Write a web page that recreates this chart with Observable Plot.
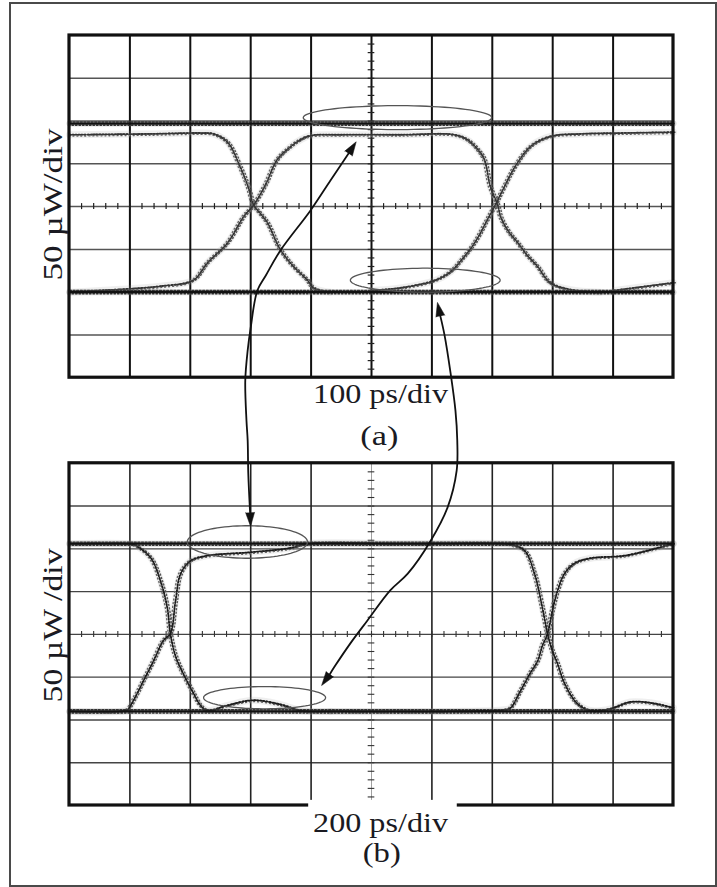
<!DOCTYPE html>
<html><head><meta charset="utf-8">
<script src="https://cdn.jsdelivr.net/npm/d3@7"></script>
<script src="https://cdn.jsdelivr.net/npm/@observablehq/plot@0.6"></script>
<style>
html,body{margin:0;padding:0;background:#fff;}
#wrap{position:relative;width:717px;height:887px;}
#wrap svg{position:absolute;left:0;top:0;}
#border{position:absolute;left:9px;top:2px;width:704px;height:881px;border:2px solid #4a4a4a;pointer-events:none;z-index:2;}
</style></head><body><div id="wrap"><div id="border"></div></div>
<script>
// ---------- data (time in ps, optical power in µW above screen bottom) ----------
const pPerDiv = 50;
const panelA = {tPerDiv: 100, yOffset: 10};
const panelB = {tPerDiv: 200, yOffset: 0};

// panel (a): 100 ps/div
const aHigh = [[0, 297], [1000, 297]];
const aLow  = [[0, 100], [1000, 100]];
const aTrace1 = [[0,284],[134,285],[217,286],[238,285],[262,275],[283,246],[296,223],[305,202],[316,192],[328,181],[349,150],[371,130],[394,114],[404,105],[432,100]];
const aTrace2 = [[0,100],[51,102],[101,104],[151,107],[205,114],[228,134],[262,158],[288,188],[305,202],[324,225],[344,255],[366,270],[382,278],[399,283],[449,284],[548,284],[637,284],[659,278],[677,266],[687,255],[697,223],[709,202],[714,188],[727,171],[742,158],[758,143],[775,130],[796,111],[829,103],[879,100]];
const aTrace3 = [[498,102],[548,105],[606,114],[631,124],[647,136],[671,158],[692,185],[705,202],[719,222],[737,246],[763,270],[796,282],[846,285],[912,286],[1000,287]];
const aTrace4 = [[902,102],[1000,111]];

// panel (b): 200 ps/div
const bHigh = [[0, 306], [2000, 306]];
const bLow  = [[0, 110], [2000, 110]];
const bTrace1 = [[0,306],[192,306],[212,305],[268,290],[301,263],[324,231],[334,201],[351,175],[377,154],[411,131],[434,117],[457,111],[523,117],[609,123],[699,118],[765,111],[864,110]];
const bTrace2 = [[0,110],[169,110],[192,112],[212,123],[245,146],[278,169],[311,193],[334,201],[351,239],[368,271],[401,286],[457,292],[599,296],[732,301],[788,306],[1096,306],[1444,306],[1460,305],[1507,298],[1540,271],[1566,231],[1583,201],[1599,181],[1616,166],[1639,143],[1682,119],[1725,111],[1791,113],[1857,121],[1924,120],[2000,114]];
const bTrace3 = [[864,110],[1262,110],[1440,112],[1460,114],[1493,134],[1526,155],[1550,169],[1566,187],[1583,201],[1599,228],[1616,251],[1639,271],[1672,283],[1725,289],[1838,292],[1947,301],[2000,306]];

// highlighted regions (centre t, centre P, half-width ps, half-height µW)
const aEllipses = [{t:543, p:304, rt:156, rp:14}, {t:589, p:114, rt:124, rp:14}];
const bEllipses = [{t:589, p:308, rt:199, rp:19}, {t:646, p:126, rt:202, rp:13}];

// connecting arrows, in screen divisions of the whole figure
const arrow1 = [[4.62,15.24],[4.32,14.61],[3.99,13.91],[3.49,12.97],[3.25,12.39],[3.11,12.04],[3.00,11.17],[2.95,10.64],[2.91,9.93],[2.93,9.00],[2.95,8.53],[2.96,7.76],[2.99,6.85]];
const arrow2 = [[6.14,11.44],[6.21,10.99],[6.31,10.10],[6.39,9.23],[6.42,8.53],[6.41,7.83],[6.26,6.97],[5.98,6.19],[5.60,5.42],[5.31,5.03],[4.93,4.32],[4.65,3.79],[4.40,3.27],[4.31,3.07]];
const arrowHeads = [{x:4.62,y:15.24,rot:33},{x:2.99,y:6.85,rot:178},{x:6.14,y:11.44,rot:-12},{x:4.31,y:3.07,rot:216}];

const gridX = [1,2,3,4,5,6,7,8,9];
const gridY = [1,2,3,4,5,6,7];

// ---------- build ----------
const rows = (trace, p, id) => trace.map(([t, P]) => ({x: t / p.tPerDiv, y: P / pPerDiv + p.yOffset, id}));
const edgeRowsA = [...rows(aTrace1, panelA, "a1"), ...rows(aTrace2, panelA, "a2"), ...rows(aTrace3, panelA, "a3"), ...rows(aTrace4, panelA, "a4")];
const edgeRowsB = [...rows(bTrace1, panelB, "b1"), ...rows(bTrace2, panelB, "b2"), ...rows(bTrace3, panelB, "b3")];
const steadyRows = [
  ...rows(aHigh, panelA, "ah"), ...rows(aLow, panelA, "al"),
  ...rows(bHigh, panelB, "bh"), ...rows(bLow, panelB, "bl")
];
const ellipseRows = [];
const addEll = (list, p, pre) => list.forEach((e, i) => {
  for (let a = 0; a <= 360; a += 4) {
    const r = a * Math.PI / 180;
    ellipseRows.push({x: (e.t + e.rt * Math.cos(r)) / p.tPerDiv, y: (e.p + e.rp * Math.sin(r)) / pPerDiv + p.yOffset, id: pre + i});
  }
});
addEll(aEllipses, panelA, "ea"); addEll(bEllipses, panelB, "eb");
const arrowRows = [...arrow1.map(([x,y]) => ({x,y,id:1})), ...arrow2.map(([x,y]) => ({x,y,id:2}))];

const minorX = d3.range(1, 50).map(i => i / 5);
const minorY = d3.range(1, 40).map(i => i / 5);
const offA = panelA.yOffset, offB = panelB.yOffset;

// scatter-like rendering of a sampled trace: faint spread + offset dotted strands
const scatter = (data, dark) => [
  Plot.line(data, {x: "x", y: "y", z: "id", stroke: "#999", strokeWidth: 7, strokeOpacity: 0.16, curve: "catmull-rom"}),
  Plot.line(data, {x: "x", y: "y", z: "id", dx: -2, stroke: "#666", strokeWidth: 1.4, strokeDasharray: "1 2.8", strokeDashoffset: 2, curve: "catmull-rom"}),
  Plot.line(data, {x: "x", y: "y", z: "id", dx: 2, stroke: "#555", strokeWidth: 1.4, strokeDasharray: "1.1 2.4", strokeDashoffset: 1, curve: "catmull-rom"}),
  Plot.line(data, {x: "x", y: "y", z: "id", dy: 1.4, stroke: "#666", strokeWidth: 1.3, strokeDasharray: "1 3", strokeDashoffset: 0.5, curve: "catmull-rom"}),
  Plot.line(data, {x: "x", y: "y", z: "id", stroke: dark, strokeWidth: 1.8, strokeDasharray: "1.3 1.7", curve: "catmull-rom"})
];

const font = "'Liberation Serif', 'Times New Roman', Times, serif";
const txt = {fontSize: 28, fontFamily: font, fill: "#1a1a22"};
const plot = Plot.plot({
  width: 717, height: 887,
  marginLeft: 69, marginRight: 44, marginTop: 35, marginBottom: 82,
  x: {domain: [0, 10], axis: null},
  y: {domain: [0, 18], axis: null},
  style: {background: "transparent", fontFamily: font},
  marks: [
    // panel (a) grid
    Plot.ruleY(gridY, {y: d => d + offA, x1: 0, x2: 10, stroke: "#555", strokeWidth: 1.5}),
    Plot.ruleX(gridX, {x: d => d, y1: offA, y2: offA + 8, stroke: "#111", strokeWidth: 2}),
    Plot.ruleX(minorX, {x: d => d, y1: offA + 4 - 0.07, y2: offA + 4 + 0.07, stroke: "#222", strokeWidth: 1.2}),
    Plot.ruleY(minorY, {y: d => d + offA, x1: 5 - 0.055, x2: 5 + 0.055, stroke: "#222", strokeWidth: 1.2}),
    // panel (b) grid
    Plot.ruleY(gridY, {y: d => d + offB, x1: 0, x2: 10, stroke: "#444", strokeWidth: 1.4}),
    Plot.ruleX(gridX.filter(d => d !== 5), {x: d => d, y1: offB, y2: offB + 8, stroke: "#222", strokeWidth: 1.6}),
    Plot.ruleX([5], {x: d => d, y1: offB, y2: offB + 8, stroke: "#888", strokeWidth: 0.8}),
    Plot.ruleX(minorX, {x: d => d, y1: offB + 4 - 0.07, y2: offB + 4 + 0.07, stroke: "#333", strokeWidth: 1.1}),
    Plot.ruleY(minorY, {y: d => d + offB, x1: 5 - 0.055, x2: 5 + 0.055, stroke: "#333", strokeWidth: 1.1}),
    // edge traces
    ...scatter(edgeRowsA, "#333"),
    ...scatter(edgeRowsB, "#1a1a1a"),
    // steady one / zero levels
    Plot.line(steadyRows, {x: "x", y: "y", z: "id", stroke: "#888", strokeWidth: 6, strokeOpacity: 0.3}),
    Plot.line(steadyRows, {x: "x", y: "y", z: "id", dy: -1.6, stroke: "#333", strokeWidth: 1.4, strokeDasharray: "2 1.6"}),
    Plot.line(steadyRows, {x: "x", y: "y", z: "id", dy: 1.6, stroke: "#333", strokeWidth: 1.4, strokeDasharray: "1.5 2", strokeDashoffset: 1}),
    Plot.line(steadyRows, {x: "x", y: "y", z: "id", stroke: "#111", strokeWidth: 2.3}),
    // highlight ellipses
    Plot.line(ellipseRows, {x: "x", y: "y", z: "id", stroke: "#555", strokeWidth: 1.3, curve: "linear"}),
    // arrows
    Plot.line(arrowRows, {x: "x", y: "y", z: "id", stroke: "#111", strokeWidth: 1.8, curve: "catmull-rom"}),
    Plot.vector(arrowHeads, {x: "x", y: "y", rotate: "rot", length: 14, r: 4.5, shape: "spike", anchor: "start", fill: "#111", stroke: "#111", strokeWidth: 0.5}),
    // frames
    Plot.rect([{x1: 0, x2: 10, y1: offA, y2: offA + 8}, {x1: 0, x2: 10, y1: offB, y2: offB + 8}], {x1: "x1", x2: "x2", y1: "y1", y2: "y2", fill: "none", stroke: "#111", strokeWidth: 3.2}),
    // label box interrupting bottom frame of (b)
    Plot.rect([{x1: 3.96, x2: 6.42, y1: -0.3, y2: 0.12}], {x1: "x1", x2: "x2", y1: "y1", y2: "y2", fill: "white"}),
    // labels
    Plot.text(["100 ps/div"], {x: 5.15, y: 9.62, text: d => d, ...txt}),
    Plot.text(["(a)"], {x: 5.13, y: 8.63, text: d => d, ...txt}),
    Plot.text(["200 ps/div"], {x: 5.15, y: -0.42, text: d => d, ...txt}),
    Plot.text(["(b)"], {x: 5.17, y: -1.12, text: d => d, ...txt}),
    Plot.text(["50 \u00b5W/div"], {x: -0.28, y: 14.05, text: d => d, rotate: -90, ...txt}),
    Plot.text(["50 \u00b5W /div"], {x: -0.28, y: 4.21, text: d => d, rotate: -90, ...txt})
  ]
});
const lengths = {"100 ps/div": 135, "200 ps/div": 135, "(a)": 38, "(b)": 38, "50 \u00b5W/div": 152, "50 \u00b5W /div": 154};
plot.querySelectorAll("text").forEach(t => {
  const L = lengths[t.textContent];
  if (L) { t.setAttribute("textLength", L); t.setAttribute("lengthAdjust", "spacingAndGlyphs"); }
});
document.getElementById("wrap").appendChild(plot);
</script>
</body></html>
